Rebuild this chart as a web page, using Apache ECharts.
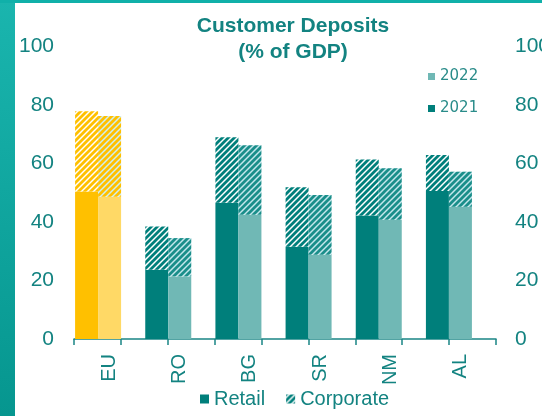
<!DOCTYPE html>
<html><head><meta charset="utf-8">
<script src="https://cdn.jsdelivr.net/npm/echarts@6/dist/echarts.min.js"></script>
<style>html,body{margin:0;padding:0;background:#fff;}#c{width:542px;height:416px;}</style>
</head><body><div id="c"></div>
<script>
const categories = ['EU', 'RO', 'BG', 'SR', 'NM', 'AL'];
const retail2021 = [50.4, 23.7, 46.6, 31.5, 42.2, 50.6];
const corporate2021 = [27.5, 14.8, 22.4, 20.4, 19.2, 12.3];
const retail2022 = [48.6, 21.4, 42.5, 28.8, 40.8, 45.2];
const corporate2022 = [27.6, 13.1, 23.7, 20.4, 17.6, 12.0];
const yTickValues = [0, 20, 40, 60, 80, 100];
const yearLegend = ['2022', '2021'];
const typeLegend = ['Retail', 'Corporate'];
const tickSlots = ['', '', '', '', '', '', '', '', ''];

const FONT = '"Liberation Sans", Arial, sans-serif';
const TXT = '#138381';
const TEAL = '#007F7B';
const LIGHT = '#70B8B5';
const GOLD = '#FFC000';
const LGOLD = '#FFD966';
const PALE = '#C4E7EC';

function hatch(stripe, bg) {
  const c = document.createElement('canvas');
  c.width = 6; c.height = 6;
  const g = c.getContext('2d');
  g.fillStyle = bg; g.fillRect(0, 0, 6, 6);
  g.strokeStyle = stripe; g.lineWidth = 2.8;
  g.beginPath();
  g.moveTo(-1, 7); g.lineTo(7, -1);
  g.moveTo(-1, 1); g.lineTo(1, -1);
  g.moveTo(5, 7); g.lineTo(7, 5);
  g.stroke();
  return { image: c, repeat: 'repeat' };
}

const hTeal1 = hatch(TEAL, '#ffffff');
const hTeal2 = hatch('#1A8E8A', PALE);
const hGold1 = hatch(GOLD, '#ffffff');
const hGold2 = hatch(GOLD, '#CFEFF2');

function items(vals, euColor, color) {
  return vals.map((v, i) => ({ value: v, itemStyle: { color: i === 0 ? euColor : color } }));
}

const gTop = 46.5, gBottom = 77;
const chart = echarts.init(document.getElementById('c'), null, { renderer: 'canvas' });
chart.setOption({
  animation: false,
  backgroundColor: '#ffffff',
  title: {
    text: 'Customer Deposits\n(% of GDP)',
    left: 293, top: 13, padding: 0, textAlign: 'center',
    textStyle: { fontFamily: FONT, fontSize: 21, fontWeight: 'bold', color: TXT, lineHeight: 26 }
  },
  graphic: [
    { type: 'rect', left: 0, top: 0, z: -10, shape: { width: 15, height: 416 },
      style: { fill: new echarts.graphic.LinearGradient(0, 0, 0, 1, [
        { offset: 0, color: '#1AB5AE' }, { offset: 1, color: '#06968F' }]) } },
    { type: 'rect', left: 0, top: 0, z: -10, shape: { width: 542, height: 3 }, style: { fill: '#10B0A9' } }
  ],
  legend: [
    { data: typeLegend, left: 200, top: 389, padding: 0, itemWidth: 9, itemHeight: 9, itemGap: 21,
      icon: 'rect', selectedMode: false,
      textStyle: { fontFamily: FONT, fontSize: 20, color: TXT } },
    { data: yearLegend, orient: 'vertical', left: 428, top: 69, padding: 0, itemWidth: 7, itemHeight: 7,
      itemGap: 17, icon: 'rect', selectedMode: false,
      textStyle: { fontFamily: '"DejaVu Sans", sans-serif', fontSize: 15, color: '#2A8C8A' } }
  ],
  grid: [
    { left: 63, right: 58, top: gTop, bottom: gBottom, outerBoundsMode: 'none', containLabel: false },
    { left: 74, right: 46, top: gTop, bottom: gBottom, outerBoundsMode: 'none', containLabel: false },
    { left: 74, right: 46, top: gTop, bottom: gBottom, outerBoundsMode: 'none', containLabel: false }
  ],
  xAxis: [
    { type: 'category', gridIndex: 0, data: categories, show: false },
    { type: 'category', gridIndex: 1, data: tickSlots, boundaryGap: true,
      axisLine: { show: true, lineStyle: { color: '#1A8585', width: 1.5 } },
      axisTick: { show: true, length: 6, lineStyle: { color: '#1A8585', width: 1.5 } },
      axisLabel: { show: false } },
    { type: 'category', gridIndex: 2, data: categories,
      axisLine: { show: false }, axisTick: { show: false },
      axisLabel: { rotate: 90, margin: 15, fontFamily: FONT, fontSize: 20, color: TXT } }
  ],
  yAxis: [
    { type: 'value', gridIndex: 0, min: 0, max: 100, interval: 20, show: false },
    { type: 'value', gridIndex: 1, min: yTickValues[0], max: yTickValues[yTickValues.length - 1], interval: 20,
      position: 'left', splitLine: { show: false }, axisLine: { show: false }, axisTick: { show: false },
      axisLabel: { margin: 20, fontFamily: FONT, fontSize: 21, color: TXT } },
    { type: 'value', gridIndex: 2, min: yTickValues[0], max: yTickValues[yTickValues.length - 1], interval: 20,
      position: 'right', splitLine: { show: false }, axisLine: { show: false }, axisTick: { show: false },
      axisLabel: { margin: 19, fontFamily: FONT, fontSize: 21, color: TXT } }
  ],
  series: [
    { name: 'Retail 2021', type: 'bar', stack: 'y2021', xAxisIndex: 0, yAxisIndex: 0, barWidth: 23, barGap: '0%',
      data: items(retail2021, GOLD, TEAL) },
    { name: 'Corporate 2021', type: 'bar', stack: 'y2021', xAxisIndex: 0, yAxisIndex: 0, barWidth: 23, barGap: '0%',
      data: items(corporate2021, hGold1, hTeal1) },
    { name: 'Retail 2022', type: 'bar', stack: 'y2022', xAxisIndex: 0, yAxisIndex: 0, barWidth: 23, barGap: '0%',
      data: items(retail2022, LGOLD, LIGHT) },
    { name: 'Corporate 2022', type: 'bar', stack: 'y2022', xAxisIndex: 0, yAxisIndex: 0, barWidth: 23, barGap: '0%',
      data: items(corporate2022, hGold2, hTeal2) },
    { name: 'Retail', type: 'bar', xAxisIndex: 1, yAxisIndex: 1, data: [], itemStyle: { color: TEAL } },
    { name: 'Corporate', type: 'bar', xAxisIndex: 1, yAxisIndex: 1, data: [], itemStyle: { color: hTeal1 } },
    { name: '2022', type: 'bar', xAxisIndex: 1, yAxisIndex: 1, data: [], itemStyle: { color: LIGHT } },
    { name: '2021', type: 'bar', xAxisIndex: 1, yAxisIndex: 1, data: [], itemStyle: { color: TEAL } }
  ]
});
</script>
</body></html>
